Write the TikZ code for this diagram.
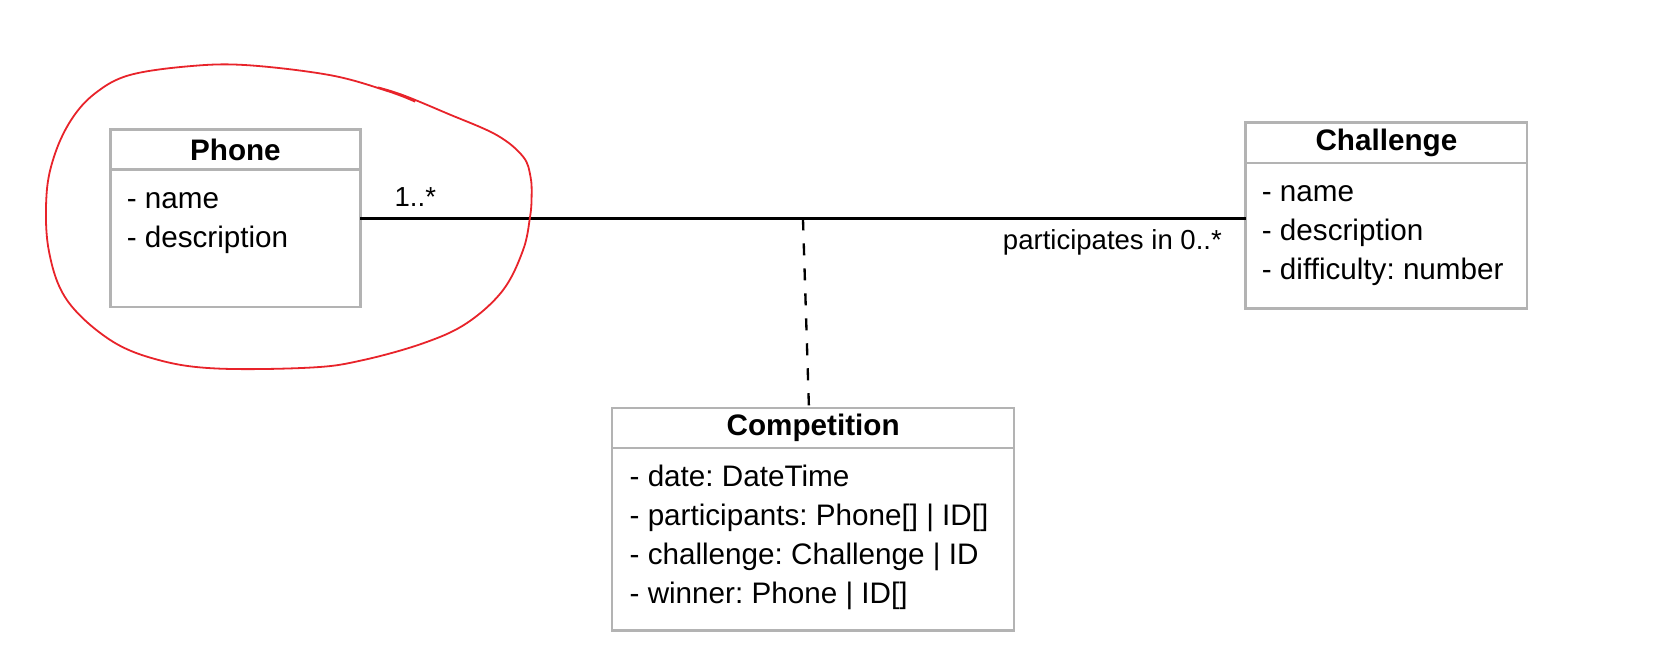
\documentclass[tikz,border=0pt]{standalone}
\usepackage{fontspec}
\setmainfont{Liberation Sans}
\usetikzlibrary{positioning}
\definecolor{BoxGray}{HTML}{B3B3B3}
\definecolor{PenRed}{HTML}{E8232A}
\tikzset{every picture/.style={/utils/exec={\fontsize{14}{18.4}\selectfont\frenchspacing}}}

\begin{document}
\begin{tikzpicture}[x=0.5pt,y=-0.5pt,
		classbox/.style={rectangle,draw=BoxGray,line width=1.1pt,inner sep=0pt,outer sep=0pt},
		classtitle/.style={classbox,minimum height=19pt,font=\bfseries},
		attrs/.style={align=left,inner sep=0pt},
		mult/.style={inner sep=0pt,font=\fontsize{13}{16}\selectfont},
		assoc/.style={line width=1.1pt,dash pattern=on 5.7pt off 6.1pt},
	]
	\useasboundingbox (0,0) rectangle (1570.4,628.9);

	% classes
	\node (phone) [classbox,minimum width=118pt,minimum height=84pt] at (222.3,206.2) {};
	\node (phonetitle) [classtitle,minimum width=118pt,below=0pt of phone.north] {Phone};
	\node (phoneattr) [attrs,below right=5.1pt and 7.5pt of phonetitle.south west] {\strut- name\\- description};

	\node (challenge) [classbox,minimum width=133pt,minimum height=87.7pt] at (1309.2,203.5) {};
	\node (challengetitle) [classtitle,minimum width=133pt,below=0pt of challenge.north] {Challenge};
	\node (challengeattr) [attrs,below right=5.1pt and 7.5pt of challengetitle.south west] {\strut- name\\- description\\- difficulty: number};

	\node (competition) [classbox,minimum width=189.7pt,minimum height=105.2pt] at (767.9,490.2) {};
	\node (competitiontitle) [classtitle,minimum width=189.7pt,below=0pt of competition.north] {Competition};
	\node (competitionattr) [attrs,below right=5.1pt and 8pt of competitiontitle.south west] {\strut- date: DateTime\\- participants: Phone[] | ID[]\\- challenge: Challenge | ID\\- winner: Phone | ID[]};

	% association
	\draw[line width=1.1pt] (phone.east) -- coordinate[pos=0.5] (mid) (phone.east -| challenge.west);
	\draw[assoc] (mid) -- ([xshift=-2pt]competition.north);
	\node (phonemult) [mult,above right=5.5pt and 16pt of phone.east] {1..*};
	\node (challengemult) [mult,below left=6.5pt and 11pt of challenge.west] {participates in 0..*};

	% hand drawn circle
	\draw[PenRed,line width=0.85pt] plot[smooth,tension=0.6] coordinates {
		(357,82.5) (381,90) (422,107) (469,127.5) (494,148) (501,167) (502,186) (500.5,205)
		(494,236) (475,274) (441,305) (400,324) (343,340) (295,347) (205,348) (150,340)
		(104,321) (63,283) (46,236) (44,183) (52,145) (68,112) (90,88) (122,71) (179,62.5) (233,61.5)
		(312,71) (366,86) (392,96)};
\end{tikzpicture}
\end{document}
